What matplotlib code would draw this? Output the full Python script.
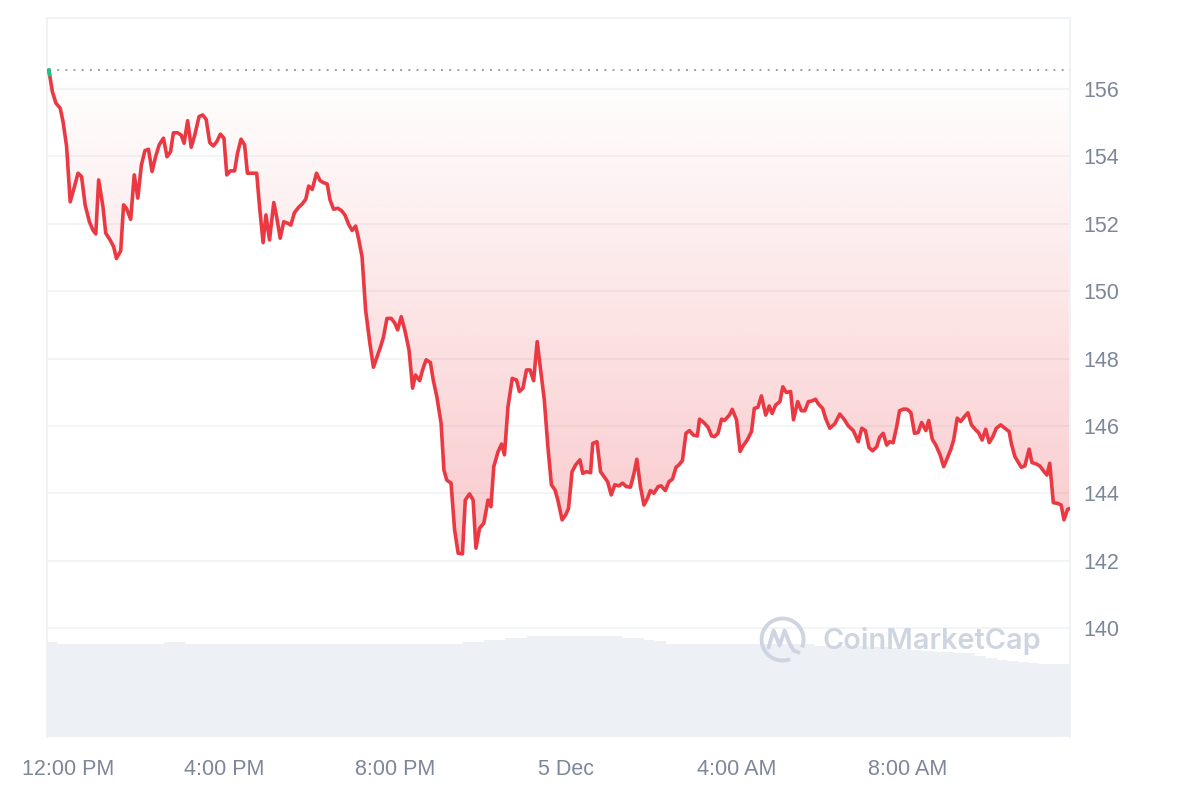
import numpy as np
import matplotlib
matplotlib.use("Agg")
import matplotlib.pyplot as plt
from matplotlib.patches import Arc
from matplotlib.transforms import ScaledTranslation

# price line: minutes after 12:00 PM (4 Dec) and price in USD
time_min = [-6, -1, 4, 10, 14, 19, 24, 30, 35, 40, 45, 51, 56, 60, 64, 70, 74, 80, 85, 89,
            95, 99, 103, 109, 114, 119, 124, 129, 134, 139, 144, 149, 155, 160, 165, 169, 175, 180, 184, 189,
            194, 199, 205, 210, 215, 220, 225, 230, 235, 240, 244, 249, 255, 259, 264, 269, 273, 280, 286, 290,
            295, 299, 304,
            310, 314, 319, 324, 330, 334, 339, 345, 350, 355, 359, 364, 370, 375, 380, 385, 389, 394, 400, 405,
            410, 415, 420, 425, 429, 434, 439, 445, 450, 455, 460, 464, 469, 475, 480, 484, 489, 494, 500, 505,
            509, 515, 519, 524, 530, 534, 539,
            545, 549, 553, 559, 564, 569, 575, 579, 585, 590, 594, 599, 605, 611, 615, 619, 625, 630, 634, 639,
            645, 651, 655, 660, 665, 670, 675, 680, 684, 690, 695, 700, 705, 709, 715, 720, 724, 729, 734, 740,
            744, 749, 755, 758, 764, 769, 774, 779, 784, 789, 795,
            800, 805, 811, 816, 820, 825, 830, 835, 839, 844, 850, 854, 860, 865, 870, 875, 879, 884, 889, 894,
            899, 905, 908, 914, 920, 925, 929, 934, 939, 943, 950, 954, 960, 965, 969, 975, 981, 985, 990, 995,
            1001, 1006, 1010, 1015, 1021, 1025, 1030, 1036, 1040, 1046, 1051, 1056, 1061, 1066, 1071, 1075, 1081, 1085,
            1091, 1098, 1105, 1111, 1117, 1124, 1131, 1136, 1141, 1146, 1151, 1157, 1161, 1166, 1171, 1175, 1180, 1185,
            1189, 1195, 1200, 1205, 1210, 1215, 1220, 1226, 1230, 1235, 1240, 1246, 1251, 1256, 1261, 1265, 1270, 1275,
            1280, 1285, 1290, 1296, 1300, 1305, 1310, 1315, 1320, 1325, 1331, 1337, 1343, 1346, 1351, 1356, 1360, 1365,
            1371, 1375, 1381, 1386, 1391, 1396, 1400, 1405, 1411, 1416, 1420, 1425, 1428]

price = [156.56, 155.92, 155.58, 155.43, 155.03, 154.29, 152.65, 153.10, 153.50, 153.40, 152.56, 152.06, 151.81,
         151.70, 153.30, 152.51, 151.72, 151.52, 151.32, 150.97, 151.20, 152.56, 152.46, 152.13, 153.45, 152.76,
         153.74, 154.17, 154.21, 153.55, 153.99, 154.34, 154.54, 153.99, 154.14, 154.70, 154.70, 154.63, 154.39,
         155.06, 154.27, 154.63, 155.18, 155.23, 155.10, 154.41, 154.31, 154.44, 154.66, 154.54, 153.45, 153.57,
         153.57, 154.09, 154.51, 154.34, 153.50, 153.50, 153.50, 152.51, 151.44, 152.26, 151.52,
         152.63, 152.21, 151.57, 152.06, 152.01, 151.96, 152.33, 152.49, 152.59, 152.73, 153.12, 153.02, 153.50,
         153.28, 153.22, 153.18, 152.71, 152.43, 152.46, 152.39, 152.26, 151.99, 151.80, 151.93, 151.57, 151.02,
         149.44, 148.45, 147.74, 148.05, 148.35, 148.63, 149.19, 149.19, 149.05, 148.85, 149.24, 148.85, 148.25,
         147.12, 147.51, 147.34, 147.66, 147.96, 147.88, 147.36, 146.87,
         146.08, 144.69, 144.39, 144.30, 142.91, 142.22, 142.20, 143.80, 143.98, 143.80, 142.37, 142.96, 143.11,
         143.80, 143.60, 144.79, 145.23, 145.46, 145.14, 146.57, 147.41, 147.36, 147.02, 147.12, 147.66, 147.66,
         147.34, 148.50, 147.81, 146.77, 145.39, 144.25, 144.10, 143.80, 143.21, 143.36, 143.55, 144.64, 144.84,
         144.99, 144.59, 144.64, 144.61, 145.48, 145.53, 144.64, 144.49, 144.34, 143.95, 144.25, 144.22,
         144.30, 144.20, 144.18, 144.59, 145.01, 144.20, 143.65, 143.85, 144.08, 144.00, 144.20, 144.22, 144.08,
         144.34, 144.42, 144.77, 144.84, 144.97, 145.78, 145.86, 145.73, 145.70, 146.20, 146.10, 145.96, 145.70,
         145.68, 145.78, 146.20, 146.16, 146.32, 146.49, 146.18, 145.24, 145.40, 145.58, 145.83, 146.52, 146.55,
         146.89, 146.32, 146.59, 146.37, 146.62, 146.72, 147.16, 146.99, 147.02, 146.18, 146.72, 146.45, 146.45,
         146.72, 146.74, 146.79, 146.65, 146.52, 146.23,
         145.93, 146.06, 146.35, 146.20, 146.00, 145.86, 145.53, 145.93, 145.86, 145.36, 145.26, 145.38, 145.66,
         145.78, 145.43, 145.53, 145.50, 145.98, 146.45, 146.50, 146.49, 146.39, 145.78, 145.80, 146.10, 145.86,
         146.16, 145.60, 145.43, 145.14, 144.79, 145.04, 145.30, 145.58, 146.23, 146.13, 146.27, 146.39, 146.03,
         145.88, 145.80, 145.58, 145.90, 145.50, 145.68, 145.93, 146.03, 145.93, 145.83, 145.48, 145.09, 144.91,
         144.77, 144.81, 145.31, 144.91, 144.87, 144.81, 144.67, 144.54, 144.89, 143.72, 143.70, 143.65, 143.21,
         143.52, 143.55]

# volume bars, one per 15 minutes (billions USD)
vol_time = [-2 + 15 * k for k in range(96)]
volume = [3.07, 3.00, 3.00, 3.00, 3.00, 3.00, 3.00, 3.00, 3.00, 3.00, 3.00, 3.07, 3.07, 3.00, 3.00, 3.00,
          3.00, 3.00, 3.00, 3.00, 3.00, 3.00, 3.00, 3.00, 3.00, 3.00, 3.00, 3.00, 3.00, 3.00, 3.00, 3.00,
          3.00, 3.00, 3.00, 3.00, 3.00, 3.00, 3.00, 3.07, 3.07, 3.14, 3.14, 3.20, 3.20, 3.26, 3.26, 3.26,
          3.26, 3.26, 3.26, 3.26, 3.26, 3.26, 3.20, 3.20, 3.14, 3.11, 3.00, 3.00, 3.00, 3.00, 3.00, 3.00,
          3.00, 3.00, 3.00, 3.00, 3.00, 3.00, 3.00, 3.00, 2.95, 2.95, 2.95, 2.95, 2.95, 2.92, 2.90, 2.87,
          2.84, 2.81, 2.78, 2.76, 2.74, 2.72, 2.71, 2.62, 2.55, 2.49, 2.45, 2.42, 2.38, 2.35, 2.35, 2.35]

y_ticks = [140, 142, 144, 146, 148, 150, 152, 154, 156]
x_ticks = [0, 240, 480, 720, 960, 1200]
x_labels = ['12:00 PM', '4:00 PM', '8:00 PM', '5 Dec', '4:00 AM', '8:00 AM']

RED = '#ea3943'
GREEN = '#16c784'
GRID = '#eff2f5'
TXT = '#7d879a'

t = np.array(time_min, dtype=float)
p = np.array(price)
open_price = p[0]

fig = plt.figure(figsize=(12, 8), dpi=100)
ax = fig.add_axes([0.0392, 0.07875, 0.8525, 0.89875])
axv = ax.twinx()

# volume
axv.bar(vol_time, volume, width=15.2, color='#edf0f4', linewidth=0, zorder=1)
axv.set_ylim(0, 23.27)
axv.set_yticks([])
for s in axv.spines.values():
    s.set_visible(False)

ax.set_zorder(axv.get_zorder() + 1)
ax.patch.set_visible(False)

# gradient fill between line and open price
fill = ax.fill_between(t, p, open_price, color='none', linewidth=0)
path = fill.get_paths()[0]
grad = np.zeros((256, 1, 4))
grad[..., 0:3] = matplotlib.colors.to_rgb(RED)
grad[:, 0, 3] = np.linspace(0.27, 0.0, 256)
im = ax.imshow(grad, extent=[t[0], t[-1], p.min(), open_price], origin='lower',
               aspect='auto', zorder=2, interpolation='bilinear')
im.set_clip_path(path, transform=ax.transData)

ax.plot(t, p, color=RED, lw=2.6, zorder=4, solid_joinstyle='round', solid_capstyle='round')
ax.plot([t[0], t[1] * 0.2 + t[0] * 0.8], [p[0], p[1] * 0.2 + p[0] * 0.8], color=GREEN, lw=2.6, zorder=5)
ax.plot([t[0], 1428], [open_price, open_price], color='#9a9fa7', lw=1.4,
        linestyle=(0, (1, 3.2)), zorder=3)

ax.set_xlim(-8.5, 1428.5)
ax.set_ylim(136.764, 158.108)

ax.yaxis.tick_right()
ax.set_yticks(y_ticks)
ax.set_yticklabels([str(v) for v in y_ticks])
ax.set_xticks(x_ticks)
ax.set_xticklabels(x_labels)
ax.grid(axis='y', color=GRID, lw=1.1)
ax.tick_params(axis='both', length=0, labelsize=15.5, labelcolor=TXT)
ax.tick_params(axis='x', pad=16)
ax.tick_params(axis='y', pad=9.5)
for lab in ax.get_xticklabels() + ax.get_yticklabels():
    lab.set_family('Liberation Sans')

offset = ScaledTranslation(0.15, 0, fig.dpi_scale_trans)
first = ax.get_xticklabels()[0]
first.set_transform(first.get_transform() + offset)

for side in ['top', 'left', 'right']:
    ax.spines[side].set_color(GRID)
    ax.spines[side].set_linewidth(1.3)
ax.spines['bottom'].set_visible(False)

# watermark
WM = '#cfd5e0'
ax.text(0.7576, 0.1335, 'CoinMarketCap', transform=ax.transAxes, ha='left', va='center',
        fontsize=20.8, fontweight='semibold', family='Inter', color=WM, zorder=3)
cx, cy = 0.719, 0.1356
ax.add_patch(Arc((cx, cy), 42 / 1023, 42 / 719, theta1=-30, theta2=285, transform=ax.transAxes,
                 color=WM, lw=2.8, zorder=3))
mx = [-14, -9, -3, 2, 7, 11, 16]
my = [-8, 9, -6, 9, -4, -11, -13]
ax.plot([cx + v / 1023 for v in mx], [cy + v / 719 for v in my], transform=ax.transAxes,
        color=WM, lw=2.8, solid_capstyle='round', solid_joinstyle='round', zorder=3)

fig.savefig('out.png', dpi=100)
